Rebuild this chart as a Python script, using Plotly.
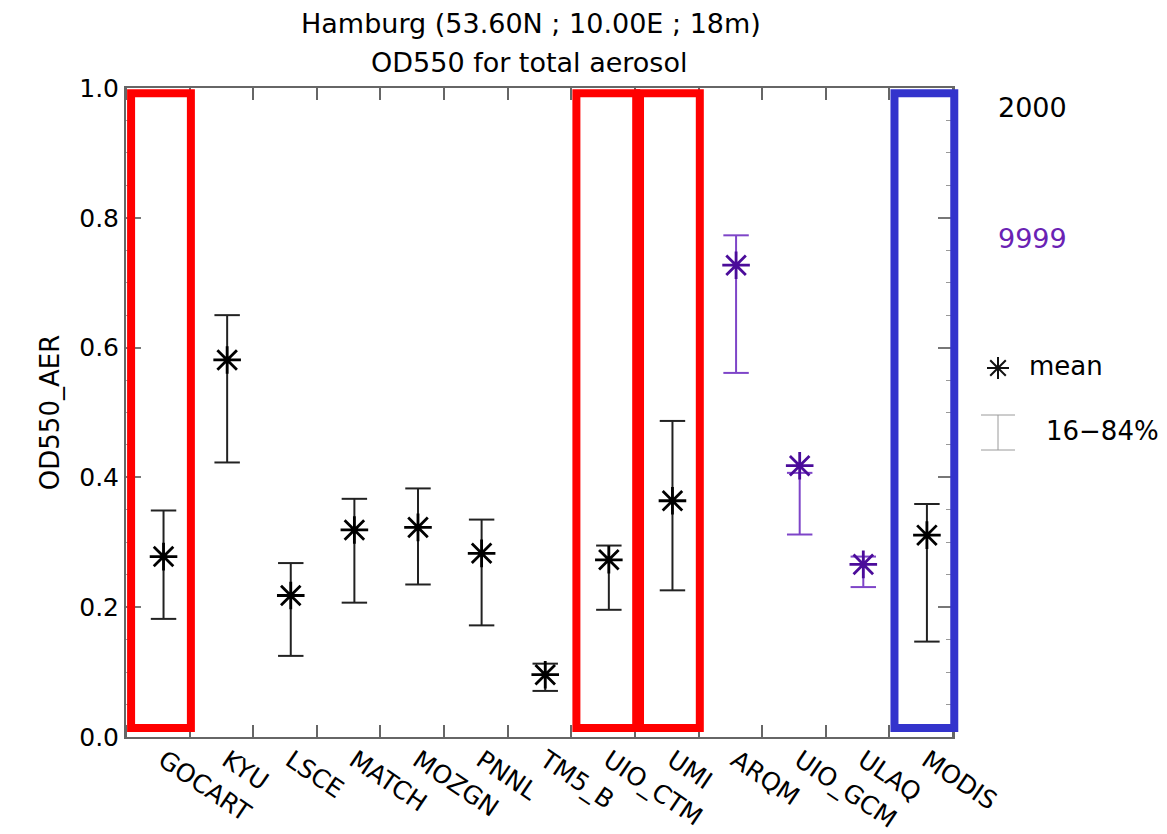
import math
import plotly.graph_objects as go

# ---------------- data ----------------
models = ["GOCART", "KYU", "LSCE", "MATCH", "MOZGN", "PNNL", "TM5_B",
          "UIO_CTM", "UMI", "ARQM", "UIO_GCM", "ULAQ", "MODIS"]
mean_vals = [0.278, 0.581, 0.218, 0.319, 0.323, 0.283, 0.096,
             0.273, 0.364, 0.727, 0.418, 0.266, 0.311]
p84_vals = [0.349, 0.650, 0.268, 0.367, 0.383, 0.335, 0.113,
            0.295, 0.487, 0.773, 0.407, 0.278, 0.359]
p16_vals = [0.182, 0.423, 0.125, 0.207, 0.235, 0.172, 0.071,
            0.196, 0.226, 0.561, 0.312, 0.231, 0.147]
years = ["2000", "2000", "2000", "2000", "2000", "2000", "2000",
         "2000", "2000", "9999", "9999", "9999", "2000"]
red_boxes = ["GOCART", "UIO_CTM", "UMI"]
blue_boxes = ["MODIS"]
y_ticks = [0.0, 0.2, 0.4, 0.6, 0.8, 1.0]

# ---------------- style ----------------
W, H = 1167, 834
ML, MR, MT, MB = 126, 214, 88, 97
PW, PH = W - ML - MR, H - MT - MB
FONT = "DejaVu Sans"
OFFSET = 0.59          # point position within each category slot
CAP = 0.2              # half cap width (category units)
year_style = {
    "2000": dict(star="#000000", bar="#222222", text="#000000"),
    "9999": dict(star="#4B0C9A", bar="#7E45C8", text="#6A22B4"),
}
NX = len(models)


def pxp(x):
    return (x - ML) / PW


def pyp(y):
    return (MT + PH - y) / PH


fig = go.Figure()

for yr in ["2000", "9999"]:
    st = year_style[yr]
    xs, ys = [], []
    mx, my = [], []
    for i, m in enumerate(models):
        if years[i] != yr:
            continue
        xc = i + OFFSET
        lo, hi = p16_vals[i], p84_vals[i]
        xs += [xc, xc, None, xc - CAP, xc + CAP, None, xc - CAP, xc + CAP, None]
        ys += [lo, hi, None, hi, hi, None, lo, lo, None]
        mx.append(xc)
        my.append(mean_vals[i])
    fig.add_trace(go.Scatter(x=xs, y=ys, mode="lines",
                             line=dict(color=st["bar"], width=2),
                             hoverinfo="skip", showlegend=False))
    fig.add_trace(go.Scatter(x=mx, y=my, mode="markers",
                             marker=dict(symbol="asterisk-open", size=23,
                                         color=st["star"],
                                         line=dict(color=st["star"], width=2.8)),
                             showlegend=False))

shapes = []
for names, col in [(red_boxes, "#FF0000"), (blue_boxes, "#3333CC")]:
    for nm in names:
        i = models.index(nm)
        shapes.append(dict(type="rect", xref="paper", yref="paper",
                           x0=(i + 0.08) / NX, x1=(i + 1.02) / NX,
                           y0=0.014, y1=0.992,
                           line=dict(color=col, width=8), layer="above"))

# legend glyphs (star and error bar)
sx, sy, r = 998, 368, 11
for ang in [0, 45, 90, 135]:
    dx = r * math.cos(math.radians(ang))
    dy = r * math.sin(math.radians(ang))
    shapes.append(dict(type="line", xref="paper", yref="paper",
                       x0=pxp(sx - dx), x1=pxp(sx + dx),
                       y0=pyp(sy - dy), y1=pyp(sy + dy),
                       line=dict(color="#111111", width=2)))
ex, ey0, ey1, ew = 998, 415, 450, 17
for seg in [(ex, ey0, ex, ey1), (ex - ew, ey0, ex + ew, ey0), (ex - ew, ey1, ex + ew, ey1)]:
    shapes.append(dict(type="line", xref="paper", yref="paper",
                       x0=pxp(seg[0]), y0=pyp(seg[1]), x1=pxp(seg[2]), y1=pyp(seg[3]),
                       line=dict(color="#9A9A9A", width=1)))

ann = []
ann.append(dict(text="Hamburg (53.60N ; 10.00E ; 18m)", x=pxp(531), y=pyp(23),
                xref="paper", yref="paper", showarrow=False,
                xanchor="center", yanchor="middle",
                font=dict(family=FONT, size=27, color="#000")))
ann.append(dict(text="OD550 for total aerosol", x=pxp(529), y=pyp(63),
                xref="paper", yref="paper", showarrow=False,
                xanchor="center", yanchor="middle",
                font=dict(family=FONT, size=27, color="#000")))
ann.append(dict(text="2000", x=pxp(996), y=pyp(107), xref="paper", yref="paper",
                showarrow=False, xanchor="left", yanchor="middle",
                font=dict(family=FONT, size=27, color=year_style["2000"]["text"])))
ann.append(dict(text="9999", x=pxp(996), y=pyp(238), xref="paper", yref="paper",
                showarrow=False, xanchor="left", yanchor="middle",
                font=dict(family=FONT, size=27, color=year_style["9999"]["text"])))
ann.append(dict(text="mean", x=pxp(1027), y=pyp(366), xref="paper", yref="paper",
                showarrow=False, xanchor="left", yanchor="middle",
                font=dict(family=FONT, size=26, color="#000")))
ann.append(dict(text="16\u221284%", x=pxp(1044), y=pyp(431), xref="paper", yref="paper",
                showarrow=False, xanchor="left", yanchor="middle",
                font=dict(family=FONT, size=26, color="#000")))

fig.update_layout(
    width=W, height=H,
    margin=dict(l=ML, r=MR, t=MT, b=MB, pad=0, autoexpand=False),
    paper_bgcolor="white", plot_bgcolor="white",
    showlegend=False,
    shapes=shapes, annotations=ann,
    font=dict(family=FONT, color="#000"),
)
fig.update_xaxes(
    range=[0, NX], showgrid=False, zeroline=False, automargin=False,
    showline=True, linecolor="#666666", linewidth=2, mirror="ticks",
    tickmode="array", tickvals=[i + OFFSET for i in range(NX)], ticktext=models,
    ticks="", tickangle=34, ticklabelstandoff=-3,
    tickfont=dict(family=FONT, size=25, color="#000"),
    minor=dict(tickmode="array", tickvals=list(range(NX + 1)), ticks="inside",
               ticklen=12, tickwidth=1.5, tickcolor="#666666"),
)
fig.update_yaxes(
    range=[0, 1], showgrid=False, zeroline=False, automargin=False,
    showline=True, linecolor="#666666", linewidth=2, mirror="ticks",
    tickmode="array", tickvals=y_ticks, ticktext=["%.1f" % v for v in y_ticks],
    ticks="inside", ticklen=15, tickwidth=1.5, tickcolor="#777777",
    tickfont=dict(family=FONT, size=25, color="#000"),
    minor=dict(dtick=0.05, tick0=0, ticks="inside", ticklen=7, tickwidth=1.2,
               tickcolor="#999999"),
    title=dict(text="OD550_AER", font=dict(family=FONT, size=26, color="#000"),
               standoff=12),
)

fig.write_html("out.html")
